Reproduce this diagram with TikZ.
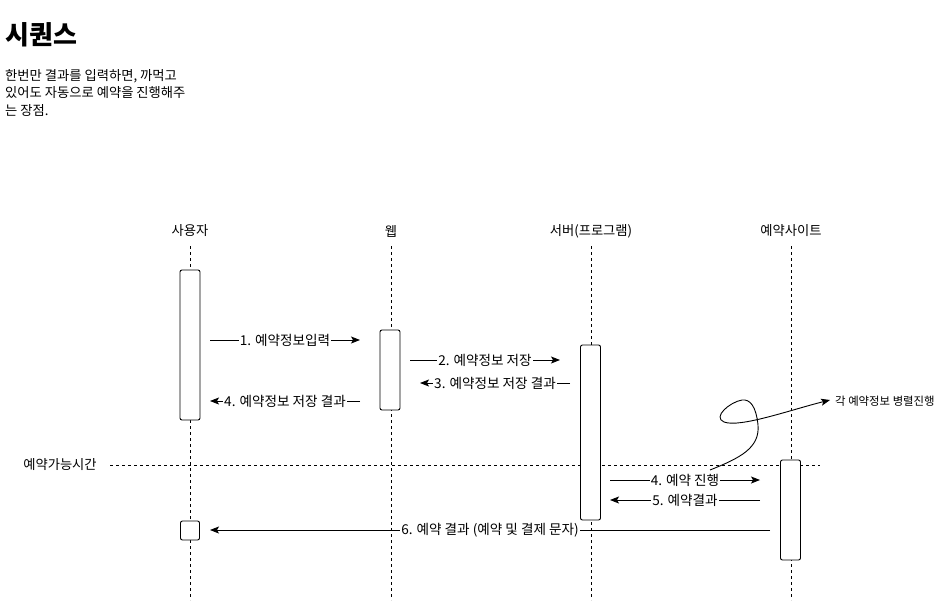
\documentclass[tikz,border=0pt]{standalone}
\usepackage{fontspec}
\setmainfont{Noto Sans CJK KR}
\usetikzlibrary{arrows.meta}
\tikzset{
  plabel/.style={inner sep=0pt, font=\fontsize{13.3}{15}\selectfont},
  lifeline/.style={draw=black, line width=0.8pt, dash pattern=on 3pt off 3pt},
  actbox/.style={draw=black, fill=white, line width=0.9pt, rounded corners=2pt, minimum width=20pt, inner sep=0pt},
  msg/.style={draw=black, line width=0.9pt, -{Stealth[length=9pt,width=7pt,inset=2pt]}},
  lbl/.style={fill=white, inner sep=1pt, font=\fontsize{13.6}{15}\selectfont},
}
\begin{document}
\begin{tikzpicture}[x=1pt,y=-1pt]
\path[use as bounding box] (0,0) rectangle (941,602);
% title and description
\node[anchor=west, inner sep=0pt, font=\fontsize{26}{30}\selectfont\bfseries] (title) at (5,35) {시퀀스};
\node[anchor=north west, inner sep=0pt, align=left, font=\fontsize{13.3}{17.5}\selectfont] (desc) at (5,69) {한번만 결과를 입력하면, 까먹고\\있어도 자동으로 예약을 진행해주\\는 장점.};
% participants
\node[plabel] (p1) at (190,231) {사용자};
\node[plabel] (p2) at (391,231) {웹};
\node[plabel] (p3) at (591,231) {서버(프로그램)};
\node[plabel] (p4) at (791,231) {예약사이트};
\coordinate (e1) at (190,600);
\coordinate (e2) at (391,600);
\coordinate (e3) at (591,600);
\coordinate (e4) at (791,600);
\coordinate (s1) at (190,246);
\coordinate (s2) at (391,246);
\coordinate (s3) at (591,246);
\coordinate (s4) at (791,246);
\draw[lifeline] (s1) -- (e1);
\draw[lifeline] (s2) -- (e2);
\draw[lifeline] (s3) -- (e3);
\draw[lifeline] (s4) -- (e4);
% time line
\node[plabel] (tl) at (60,465) {예약가능시간};
\coordinate (h1) at (110,465);
\coordinate (h2) at (820,465);
\draw[lifeline] (h1) -- (h2);
% activation boxes
\node[actbox, minimum height=150pt] (u1) at (190,345) {};
\node[actbox, minimum height=80pt] (w1) at (390,370) {};
\node[actbox, minimum height=175pt] (v1) at (590.5,432.5) {};
\node[actbox, minimum height=100pt] (r1) at (790.5,510) {};
\node[actbox, minimum height=19pt, minimum width=19pt] (u2) at (190,530.5) {};
% message endpoints
\coordinate (m1a) at (210,340); \coordinate (m1b) at (360,340);
\coordinate (m2a) at (410,360); \coordinate (m2b) at (560,360);
\coordinate (m3a) at (570,383); \coordinate (m3b) at (420,383);
\coordinate (m4a) at (360,401); \coordinate (m4b) at (210,401);
\coordinate (m5a) at (610,480); \coordinate (m5b) at (760,480);
\coordinate (m6a) at (760,500); \coordinate (m6b) at (610,500);
\coordinate (m7a) at (770,530); \coordinate (m7b) at (210,530);
\draw[msg] (m1a) -- node[lbl] {1. 예약정보입력} (m1b);
\draw[msg] (m2a) -- node[lbl] {2. 예약정보 저장} (m2b);
\draw[msg] (m3a) -- node[lbl] {3. 예약정보 저장 결과} (m3b);
\draw[msg] (m4a) -- node[lbl] {4. 예약정보 저장 결과} (m4b);
\draw[msg] (m5a) -- node[lbl] {4. 예약 진행} (m5b);
\draw[msg] (m6a) -- node[lbl] {5. 예약결과} (m6b);
\draw[msg] (m7a) -- node[lbl] {6. 예약 결과 (예약 및 결제 문자)} (m7b);
% parallel note
\node[inner sep=0pt, anchor=west, font=\fontsize{11.4}{13}\selectfont] (note) at (835,401) {각 예약정보 병렬진행};
\coordinate (c0) at (710,470);
\coordinate (c1) at (830,400);
\draw[msg] (c0) .. controls (740,458) and (760,448) .. (758,425)
  .. controls (756,406) and (750,399) .. (742,400)
  .. controls (730,402) and (712,417) .. (724,422)
  .. controls (740,428) and (790,410) .. (c1);
\end{tikzpicture}
\end{document}
